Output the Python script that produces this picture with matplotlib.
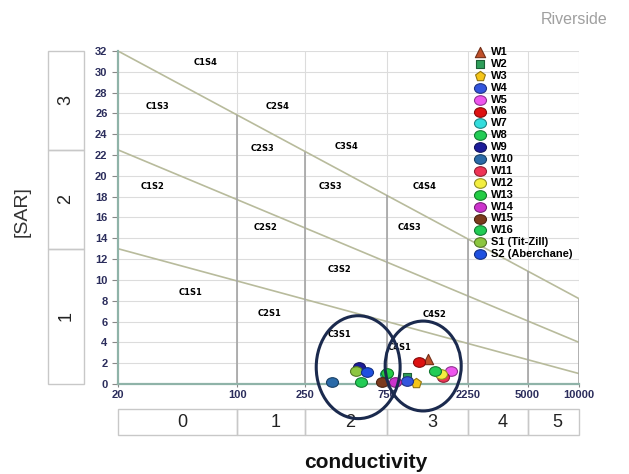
import numpy as np
import matplotlib.pyplot as plt
import matplotlib.colors as mcolors
import matplotlib.transforms as mtransforms
from matplotlib.patches import Ellipse, Rectangle
from matplotlib.path import Path
from matplotlib.ticker import NullLocator

plt.rcParams['font.family'] = ['Liberation Sans', 'DejaVu Sans']

# samples (EC in uS/cm, SAR)
names = ['W1', 'W2', 'W3', 'W4', 'W5', 'W6', 'W7', 'W8', 'W9', 'W10',
         'W11', 'W12', 'W13', 'W14', 'W15', 'W16', 'S1 (Tit-Zill)', 'S2 (Aberchane)']
ec = [1300, 980, 1105, 980, 1770, 1150, 745, 527, 513, 356,
      1590, 1548, 748, 834, 700, 1430, 493, 571]
sar = [2.4, 0.65, 0.1, 0.3, 1.25, 2.1, 1.0, 0.2, 1.6, 0.2,
       0.65, 0.95, 1.05, 0.2, 0.2, 1.25, 1.25, 1.15]
colors = ['#c0502a', '#2e9e5a', '#f5c518', '#3355dd', '#ee55ee', '#dd1111', '#33dddd',
          '#22cc55', '#1c1c99', '#2a6aa8', '#ee3355', '#f3ee40', '#22cc44', '#cc33cc',
          '#7b3a1c', '#22cc55', '#8cc63f', '#1e50e0']
shapes = ['^', 's', 'p'] + ['e'] * 15

# diagram geometry
ec_bounds = [20, 100, 250, 750, 2250, 5000, 10000]
ec_classes = ['0', '1', '2', '3', '4', '5']
sar_bounds = [0, 13, 22.5, 32]
sar_classes = ['1', '2', '3']
line_start = [13, 22.5, 32]    # SAR at EC=20
line_end = [1.0, 4.0, 8.2]     # SAR at EC=10000

zones = ['C1S4', 'C1S3', 'C2S4', 'C2S3', 'C3S4', 'C1S2', 'C3S3', 'C4S4', 'C2S2',
         'C4S3', 'C3S2', 'C1S1', 'C2S1', 'C4S2', 'C3S1', 'C4S1']
zone_ec = [65, 34, 172, 141, 437, 32, 352, 1248, 147, 1021, 397, 53, 155, 1429, 397, 891]
zone_sar = [30.9, 26.7, 26.7, 22.6, 22.8, 19.0, 19.0, 19.0, 15.0, 15.0, 11.0, 8.75,
            6.8, 6.7, 4.8, 3.5]


def darker(c, f=0.6):
    return tuple(np.array(mcolors.to_rgb(c)) * f)


ell_marker = Path.unit_circle().transformed(mtransforms.Affine2D().scale(1.0, 0.8))
marker_size = {'^': 55, 's': 35, 'p': 55, 'e': 75}

fig = plt.figure(figsize=(6.29, 4.74), dpi=100)
ax = fig.add_axes([0.1876, 0.1899, 0.7329, 0.7025])
ax.set_xscale('log')
ax.set_xlim(20, 10000)
ax.set_ylim(0, 32)

# light grid
for y in range(2, 33, 2):
    ax.axhline(y, color='#dcdcdc', lw=0.8, zorder=0)
for x in ec_bounds[1:]:
    ax.axvline(x, color='#dcdcdc', lw=0.8, zorder=0)

# SAR class lines
for a, b in zip(line_start, line_end):
    ax.plot([20, 10000], [a, b], color='#b8bb9c', lw=1.2, zorder=1)

# salinity dividers up to the top line
top = np.interp(np.log10(ec_bounds[1:]), np.log10([20, 10000]), [line_start[-1], line_end[-1]])
ax.vlines(ec_bounds[1:], 0, top, color='#a4a4a4', lw=1.2, zorder=1)

for s in ['top', 'right']:
    ax.spines[s].set_visible(False)
for s in ['left', 'bottom']:
    ax.spines[s].set_color('#8fb3a8')
    ax.spines[s].set_linewidth(1.6)

ax.set_xticks(ec_bounds)
ax.set_xticklabels([str(v) for v in ec_bounds])
ax.xaxis.set_minor_locator(NullLocator())
ax.set_yticks(range(0, 33, 2))
ax.tick_params(labelsize=8, labelcolor='#2b2d5c', color='#888888', length=4, width=0.8)
ax.tick_params(axis='x', length=2, pad=2)
for lbl in ax.get_xticklabels() + ax.get_yticklabels():
    lbl.set_fontweight('bold')

# zone labels
for z, x, y in zip(zones, zone_ec, zone_sar):
    ax.text(x, y, z, fontsize=6, fontweight='bold', ha='center', va='center',
            family='DejaVu Sans', zorder=2)

# samples
for n, x, y, c, m in zip(names, ec, sar, colors, shapes):
    mk = ell_marker if m == 'e' else m
    ax.scatter(x, y, s=marker_size[m], marker=mk, color=c, edgecolors=[darker(c)],
               linewidths=0.8, label=n, zorder=4, clip_on=False)

# circled groups
ax.add_patch(Ellipse((0.521, 0.0505), 0.182, 0.309, transform=ax.transAxes, fill=False,
                     ec='#1b2a4e', lw=2.2, clip_on=False, zorder=5))
ax.add_patch(Ellipse((0.662, 0.054), 0.165, 0.27, transform=ax.transAxes, fill=False,
                     ec='#1b2a4e', lw=2.2, clip_on=False, zorder=5))

# SAR class boxes on the left
tr_left = mtransforms.blended_transform_factory(fig.transFigure, ax.transData)
for b0, b1, lab in zip(sar_bounds[:-1], sar_bounds[1:], sar_classes):
    ax.add_patch(Rectangle((48 / 629, b0), 36 / 629, b1 - b0, transform=tr_left, fill=False,
                           ec='#c8c8c8', lw=1, clip_on=False))
    ax.text(66 / 629, (b0 + b1) / 2, lab, transform=tr_left, rotation=90, fontsize=13,
            ha='center', va='center', color='#222222')

# salinity class boxes at the bottom
tr_bot = mtransforms.blended_transform_factory(ax.transData, fig.transFigure)
for b0, b1, lab in zip(ec_bounds[:-1], ec_bounds[1:], ec_classes):
    ax.add_patch(Rectangle((b0, 0.0823), b1 - b0, 0.0548, transform=tr_bot, fill=False,
                           ec='#c8c8c8', lw=1, clip_on=False))
    ax.text(np.sqrt(b0 * b1) * 1.06, 0.1097, lab, transform=tr_bot, fontsize=13,
            ha='center', va='center', color='#222222')

fig.text(22 / 629, 1 - 212 / 474, '[SAR]', rotation=90, fontsize=14, ha='center',
         va='center', color='#333333')
fig.text(366 / 629, 1 - 463 / 474, 'conductivity', fontsize=15, fontweight='bold',
         ha='center', va='center', color='#111111')
fig.text(574 / 629, 1 - 19 / 474, 'Riverside', fontsize=11.5, ha='center', va='center',
         color='#a0a0a0')

ax.legend(loc='upper left', bbox_to_anchor=(474 / 629, 1 - 47 / 474),
          bbox_transform=fig.transFigure, frameon=False, prop={'weight': 'bold', 'size': 8},
          handlelength=1.0, handletextpad=0.5, labelspacing=0.17, borderpad=0,
          borderaxespad=0, scatterpoints=1)

fig.savefig('out.png', dpi=100)
